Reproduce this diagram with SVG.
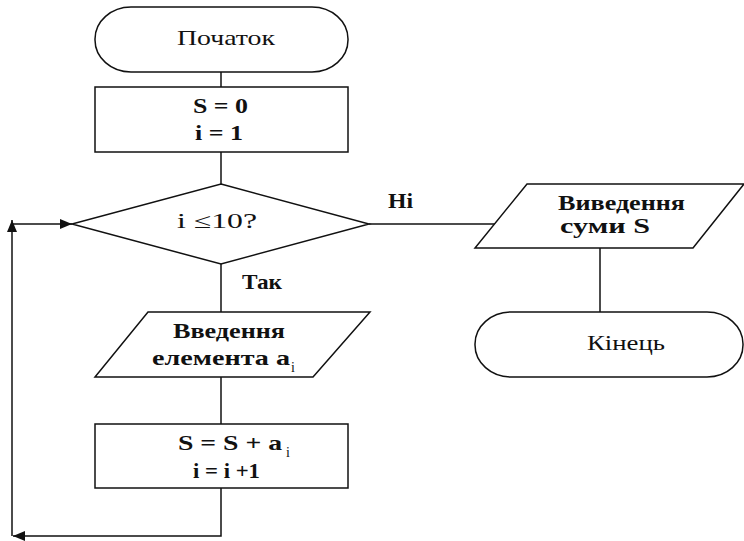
<svg xmlns="http://www.w3.org/2000/svg" width="744" height="541" viewBox="0 0 744 541" font-family="'Liberation Serif', 'Times New Roman', 'DejaVu Serif', serif">
<style>
.s{fill:#fff;stroke:#111;stroke-width:1.5}
.c{fill:none;stroke:#111;stroke-width:1.5}
text{font-family:'Liberation Serif','Times New Roman','DejaVu Serif',serif;font-size:21px;fill:#111}
.b{font-weight:bold}
.sub{font-size:14px}
</style>
<defs>
<marker id="ah" viewBox="0 0 12 10" refX="12" refY="5" markerWidth="12" markerHeight="10" markerUnits="userSpaceOnUse" orient="auto">
<path d="M0,0 L12,5 L0,10 z" fill="#111"/>
</marker>
</defs>
<g id="connectors">
<line class="c" x1="221" y1="72" x2="221" y2="87"/>
<line class="c" x1="221" y1="152" x2="221" y2="184"/>
<line class="c" x1="221" y1="264" x2="221" y2="312"/>
<line class="c" x1="221" y1="377" x2="221" y2="424"/>
<polyline class="c" points="221,488 221,536 13,536" marker-end="url(#ah)"/>
<line class="c" x1="12" y1="536" x2="12" y2="220" marker-end="url(#ah)"/>
<line class="c" x1="13" y1="224" x2="72" y2="224" marker-end="url(#ah)"/>
<line class="c" x1="369" y1="224" x2="502" y2="224"/>
<line class="c" x1="600" y1="248" x2="600" y2="312"/>
<text x="388" y="208" class="b" textLength="25" lengthAdjust="spacingAndGlyphs">Ні</text>
<text x="242" y="289" class="b" textLength="40" lengthAdjust="spacingAndGlyphs">Так</text>
</g>
<g id="start">
<rect class="s" x="95" y="7" width="253" height="65" rx="36" ry="32"/>
<text x="177" y="45" textLength="98" lengthAdjust="spacingAndGlyphs">Початок</text>
</g>
<g id="init">
<rect class="s" x="95" y="87" width="253" height="65"/>
<text x="193" y="113" class="b" textLength="55" lengthAdjust="spacingAndGlyphs">S = 0</text>
<text x="195" y="140" class="b" textLength="48" lengthAdjust="spacingAndGlyphs">i = 1</text>
</g>
<g id="cond">
<polygon class="s" points="221,184 369,224 221,264 72,224"/>
<text x="177" y="228" textLength="80" lengthAdjust="spacingAndGlyphs">i ≤10?</text>
</g>
<g id="input">
<polygon class="s" points="148,312 370,312 313,377 95,377"/>
<text x="173" y="338" class="b" textLength="112" lengthAdjust="spacingAndGlyphs">Введення</text>
<text x="152" y="365" class="b" textLength="138" lengthAdjust="spacingAndGlyphs">елемента  a</text>
<text x="291" y="372" class="sub">i</text>
</g>
<g id="update">
<rect class="s" x="95" y="424" width="253" height="64"/>
<text x="178" y="450" class="b" textLength="104" lengthAdjust="spacingAndGlyphs">S = S +  a</text>
<text x="286" y="457" class="sub">i</text>
<text x="193" y="478" class="b" textLength="67" lengthAdjust="spacingAndGlyphs">i = i +1</text>
</g>
<g id="output">
<polygon class="s" points="527,184 744,184 693,248 475,248"/>
<text x="558" y="210" class="b" textLength="127" lengthAdjust="spacingAndGlyphs">Виведення</text>
<text x="560" y="233" class="b" textLength="90" lengthAdjust="spacingAndGlyphs">суми S</text>
</g>
<g id="end">
<rect class="s" x="475" y="312" width="268" height="65" rx="36" ry="32"/>
<text x="587" y="350" textLength="78" lengthAdjust="spacingAndGlyphs">Кінець</text>
</g>
</svg>
